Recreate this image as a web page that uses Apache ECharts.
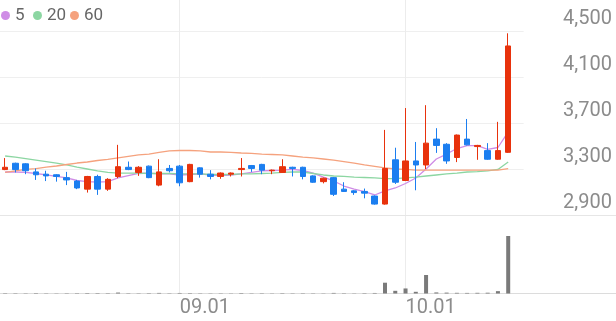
<!DOCTYPE html>
<html><head><meta charset="utf-8">
<script src="https://cdn.jsdelivr.net/npm/echarts@6/dist/echarts.min.js"></script>
<style>html,body{margin:0;padding:0;background:#fff}#c{width:616px;height:321px}</style>
</head><body><div id="c"></div>
<script>
const dates = ['08.06','08.07','08.08','08.11','08.12','08.13','08.14','08.18','08.19','08.20','08.21','08.22','08.25','08.26','08.27','08.28','08.29',
'09.01','09.02','09.03','09.04','09.05','09.08','09.09','09.10','09.11','09.12','09.15','09.16','09.17','09.18','09.19','09.22','09.23','09.24','09.25','09.26','09.29','09.30',
'10.01','10.02','10.10','10.13','10.14','10.15','10.16','10.17','10.20','10.21','10.22'];
const opens  = [3295,3350,3345,3275,3255,3250,3225,3195,3125,3235,3125,3235,3315,3270,3325,3160,3305,3325,3190,3310,3255,3235,3255,3295,3330,3340,3285,3270,3315,3315,3240,3190,3225,3125,3110,3105,3065,2995,3380,3200,3370,3335,3560,3515,3400,3560,3495,3460,3385,3445];
const closes = [3315,3295,3285,3250,3240,3235,3205,3135,3235,3125,3210,3320,3295,3315,3225,3275,3285,3180,3340,3255,3235,3265,3265,3305,3305,3290,3290,3320,3305,3235,3185,3220,3080,3105,3095,3090,2995,3305,3185,3370,3335,3525,3505,3370,3595,3510,3505,3385,3460,4370];
const lows   = [3290,3270,3255,3205,3195,3190,3160,3125,3095,3075,3110,3220,3290,3240,3220,3150,3270,3150,3185,3225,3210,3215,3235,3235,3275,3255,3255,3265,3235,3210,3180,3175,3065,3100,3075,3045,2990,2990,3170,3195,3115,3300,3440,3345,3360,3505,3380,3380,3380,3440];
const highs  = [3395,3355,3350,3305,3285,3255,3275,3205,3240,3250,3220,3510,3365,3325,3330,3385,3335,3335,3345,3315,3290,3270,3270,3395,3335,3345,3295,3385,3320,3320,3245,3225,3230,3185,3115,3130,3070,3640,3485,3830,3535,3855,3655,3525,3600,3735,3510,3525,3710,4480];
const ma5  = [3274,3274,3270,3261,3248,3235,3222,3200,3191,3187,3191,3222,3243,3261,3265,3257,3257,3248,3252,3257,3248,3243,3248,3257,3270,3283,3287,3291,3296,3287,3265,3230,3196,3152,3126,3104,3074,3109,3135,3174,3222,3300,3387,3430,3478,3504,3504,3470,3487,3622];
const ma20 = [3413,3404,3391,3378,3365,3352,3335,3317,3300,3283,3270,3265,3265,3265,3261,3261,3261,3257,3257,3257,3252,3252,3252,3257,3257,3261,3265,3270,3274,3274,3261,3248,3239,3235,3230,3226,3222,3217,3217,3222,3230,3239,3248,3257,3265,3274,3278,3283,3296,3361];
const ma60 = [3270,3283,3296,3304,3317,3326,3339,3352,3361,3374,3383,3396,3409,3422,3430,3444,3457,3461,3461,3457,3448,3448,3444,3439,3435,3430,3426,3422,3413,3404,3396,3387,3378,3365,3352,3335,3322,3309,3300,3296,3291,3291,3291,3291,3291,3291,3291,3291,3291,3304];
const volumes = [40,35,30,45,30,25,35,40,50,45,40,95,35,30,40,60,30,55,45,30,25,30,25,50,30,35,25,40,30,35,30,25,60,35,25,40,55,1100,274,514,173,1885,110,90,70,60,70,80,240,5860];
const yTicks = [2900,3300,3700,4100,4500];
const xTickLabels = ['09.01','10.01'];
const maNames = ['5','20','60'];
const maColors = ['#cf8de6','#8cd6a2','#f5a27e'];

const pad = n => Array.from({length:n},(_,i)=>'pad'+i);
const priceCats = dates.concat(pad(1));
const fullCats = dates.concat(pad(10));
const isTick = (i,v) => xTickLabels.indexOf(v) >= 0;

const chart = echarts.init(document.getElementById('c'));
const candleData = dates.map((d,i)=>[opens[i],closes[i],lows[i],highs[i]]);
const fontFam = 'Roboto, "Noto Sans", sans-serif';
chart.setOption({
  animation:false,
  legend: maNames.map((n,i)=>({
    data:[n], left:[1,33,70][i], top:7, padding:0, icon:'circle', itemWidth:9, itemHeight:9,
    textStyle:{fontSize:17,color:'#666',fontFamily:fontFam}, selectedMode:false
  })),
  grid:[
    {left:0, top:31, width:523.6, height:184},
    {left:0, right:0, top:0, height:215},
    {left:0, right:0, top:215, bottom:27.5}
  ],
  xAxis:[
    {type:'category', gridIndex:0, data:priceCats, boundaryGap:true, axisLine:{show:false}, axisTick:{show:false}, axisLabel:{show:false}, splitLine:{show:false}},
    {type:'category', gridIndex:1, data:fullCats, boundaryGap:true, axisLine:{show:true,lineStyle:{color:'#e6e6e6',width:1}}, axisTick:{show:false}, axisLabel:{show:false},
      splitLine:{show:true, interval:isTick, alignWithLabel:true, lineStyle:{color:'#ececec',width:1}}},
    {type:'category', gridIndex:2, data:fullCats, boundaryGap:true, axisLine:{show:true,lineStyle:{color:'#dcdcdc',width:1}}, axisTick:{show:false},
      axisLabel:{show:true, interval:isTick, align:'left', margin:4, fontSize:20, color:'#8c8c8c', fontFamily:fontFam},
      splitLine:{show:true, interval:isTick, alignWithLabel:true, lineStyle:{color:'#ececec',width:1}}}
  ],
  yAxis:[
    {type:'value', gridIndex:0, position:'right', min:yTicks[0], max:yTicks[yTicks.length-1], interval:400, scale:true,
      axisLine:{show:false}, axisTick:{show:false},
      splitLine:{show:true, lineStyle:{color:'#efefef',width:1}},
      axisLabel:{show:true, align:'right', verticalAlign:'bottom', margin:88.4, padding:[0,0,2,0], lineHeight:20, fontSize:20, color:'#8c8c8c', fontFamily:fontFam,
        formatter:v=>v.toLocaleString('en-US')}},
    {type:'value', gridIndex:1, min:0, max:1, show:false},
    {type:'value', gridIndex:2, min:0, max:8000, show:false}
  ],
  series:[
    ...maNames.map((n,i)=>({
      name:n, type:'line', xAxisIndex:0, yAxisIndex:0, data:[ma5,ma20,ma60][i], showSymbol:false, symbol:'circle',
      lineStyle:{color:maColors[i], width:1.3}, itemStyle:{color:maColors[i]}, z:2
    })),
    {type:'candlestick', xAxisIndex:0, yAxisIndex:0, data:candleData, barWidth:6, z:3,
      itemStyle:{color:'#e8320c', color0:'#1b7ef0', borderColor:'#e8320c', borderColor0:'#1b7ef0', borderWidth:1}},
    {type:'bar', xAxisIndex:2, yAxisIndex:2, data:volumes, barWidth:4, itemStyle:{color:'#7a7a7a'}}
  ]
});
</script></body></html>
